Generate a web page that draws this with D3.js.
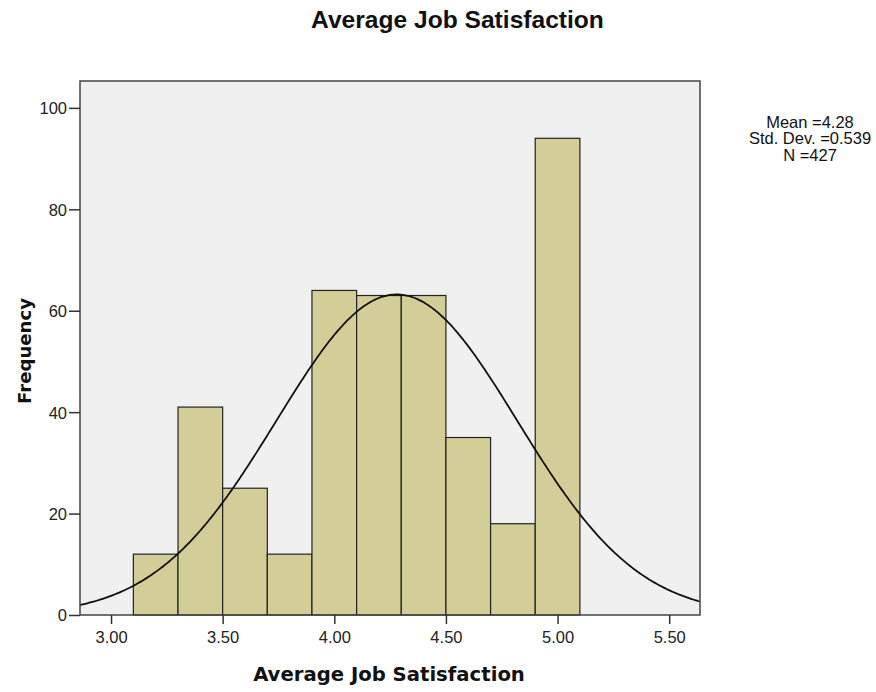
<!DOCTYPE html>
<html><head><meta charset="utf-8">
<script src="https://cdn.jsdelivr.net/npm/d3@7"></script>
<style>body{margin:0;background:#fff;font-family:"Liberation Sans",Arial,sans-serif}</style>
</head><body><svg id="c" width="876" height="692"></svg>
<script>
const binStarts = [3.1,3.3,3.5,3.7,3.9,4.1,4.3,4.5,4.7,4.9];
const binWidth = 0.2;
const counts = [12,41,25,12,64,63,63,35,18,94];
const xTicks = [3.0,3.5,4.0,4.5,5.0,5.5];
const yTicks = [0,20,40,60,80,100];
const stats = {mean:4.28, sd:0.539, n:427};
const statLines = ["Mean =4.28","Std. Dev. =0.539","N =427"];

const svg = d3.select("#c");
const L=80,R=700,T=81,B=615;
const x = d3.scaleLinear().domain([2.861,5.638]).range([L,R]);
const y = d3.scaleLinear().domain([0,105.3]).range([B,T]);

function fit(sel, w){ const n=sel.node(); const fs=+sel.attr("font-size"); const cw=n.getComputedTextLength(); if(cw>0) sel.attr("font-size", fs*w/cw); return sel; }

svg.append("rect").attr("x",L).attr("y",T).attr("width",R-L).attr("height",B-T).attr("fill","#f0f0f0");

svg.selectAll("rect.bar").data(binStarts).join("rect").attr("class","bar")
  .attr("x",d=>x(d)).attr("width",d=>x(d+binWidth)-x(d))
  .attr("y",(d,i)=>y(counts[i])).attr("height",(d,i)=>B-y(counts[i]))
  .attr("fill","#d3ce98").attr("stroke","#222").attr("stroke-width",1.2);

const pdf = v => stats.n*binWidth/(stats.sd*Math.sqrt(2*Math.PI))*Math.exp(-0.5*((v-stats.mean)/stats.sd)**2);
const xs = d3.range(0,301).map(i=>x.domain()[0]+(x.domain()[1]-x.domain()[0])*i/300);
svg.append("path").datum(xs).attr("fill","none").attr("stroke","#111").attr("stroke-width",1.8)
  .attr("d",d3.line().x(d=>x(d)).y(d=>y(pdf(d))).curve(d3.curveBasis));

svg.append("rect").attr("x",L).attr("y",T).attr("width",R-L).attr("height",B-T).attr("fill","none").attr("stroke","#444").attr("stroke-width",1.5);

const xa = svg.append("g").attr("transform",`translate(0,${B})`)
  .call(d3.axisBottom(x).tickValues(xTicks).tickFormat(d3.format(".2f")).tickSize(9).tickPadding(3).tickSizeOuter(0));
const ya = svg.append("g").attr("transform",`translate(${L},0)`)
  .call(d3.axisLeft(y).tickValues(yTicks).tickFormat(d3.format("d")).tickSize(11).tickPadding(2).tickSizeOuter(0));
[xa,ya].forEach(g=>{g.select(".domain").remove();
  g.selectAll("line").attr("stroke","#333").attr("stroke-width",1.5);
  g.selectAll("text").attr("font-family","Liberation Sans, Arial, sans-serif").attr("font-size",16.5).attr("fill","#222");});
xa.selectAll("text").attr("dy","0.95em");
ya.selectAll("text").attr("dy","0.36em");

const title = svg.append("text").attr("x",457.5).attr("y",28).attr("text-anchor","middle").attr("font-weight","bold").attr("font-size",24).attr("fill","#111").text("Average Job Satisfaction");
fit(title,293);
const xl = svg.append("text").attr("x",389).attr("y",681).attr("text-anchor","middle").attr("font-family","DejaVu Sans, Verdana, sans-serif").attr("font-weight","bold").attr("font-size",19).attr("fill","#111").text("Average Job Satisfaction");
fit(xl,272);
const yl = svg.append("text").attr("transform",`translate(31,351) rotate(-90)`).attr("text-anchor","middle").attr("font-family","DejaVu Sans, Verdana, sans-serif").attr("font-weight","bold").attr("font-size",19).attr("fill","#111").text("Frequency");
fit(yl,106);

svg.selectAll("text.st").data(statLines).join("text").attr("class","st")
  .attr("x",810).attr("y",(d,i)=>127.5+i*16.5).attr("text-anchor","middle").attr("font-size",16.5).attr("fill","#111").text(d=>d);
</script></body></html>
